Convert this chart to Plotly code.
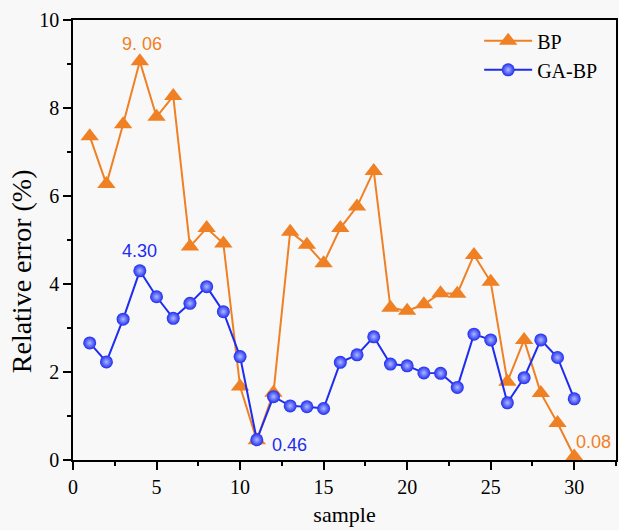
import plotly.graph_objects as go

samples = list(range(1, 31))
bp = [7.36, 6.27, 7.63, 9.06, 7.80, 8.27, 4.85, 5.27, 4.92, 1.67,
      0.45, 1.53, 5.19, 4.89, 4.47, 5.27, 5.76, 6.57, 3.46, 3.39,
      3.54, 3.79, 3.78, 4.66, 4.05, 1.78, 2.73, 1.52, 0.84, 0.08]
gabp = [2.66, 2.23, 3.20, 4.30, 3.71, 3.22, 3.56, 3.94, 3.37, 2.35,
        0.46, 1.44, 1.23, 1.21, 1.17, 2.22, 2.39, 2.80, 2.18, 2.14,
        1.98, 1.97, 1.65, 2.86, 2.73, 1.30, 1.87, 2.73, 2.33, 1.39]

labels = [
    # text, x, y, color
    ("9. 06", 4.1, 9.45, "#F08024"),
    ("4.30", 4.0, 4.74, "#1E2CF0"),
    ("0.46", 12.96, 0.35, "#1E2CF0"),
    ("0.08", 31.15, 0.42, "#F08024"),
]

ORANGE = "#F08024"
BLUE = "#1E2CF0"
SERIF = "Liberation Serif"

fig = go.Figure()
fig.add_trace(go.Scatter(
    x=samples, y=bp, name="BP", mode="lines+markers",
    line=dict(color=ORANGE, width=2),
    marker=dict(symbol="triangle-up", size=16, color=ORANGE),
))
fig.add_trace(go.Scatter(
    x=samples, y=gabp, name="GA-BP", mode="lines+markers",
    line=dict(color=BLUE, width=2),
    marker=dict(symbol="circle", size=13, color=BLUE,
                gradient=dict(type="radial", color="#AEB8FF")),
))

for text, x, y, c in labels:
    fig.add_annotation(x=x, y=y, text=text, showarrow=False,
                       xanchor="center", yanchor="middle",
                       font=dict(family="Liberation Sans", size=18, color=c))

# y-axis title (placed as rotated text, slightly below the plot centre as in the original)
fig.add_annotation(xref="paper", yref="paper", x=-0.095, y=0.43,
                   text="Relative error (%)", textangle=-90, showarrow=False,
                   xanchor="center", yanchor="middle",
                   font=dict(family=SERIF, size=28, color="black"))

axis_common = dict(
    showline=True, linecolor="black", linewidth=1.5, mirror=True,
    ticks="outside", ticklen=8, tickwidth=1.5, tickcolor="black",
    showgrid=False, zeroline=False,
    tickfont=dict(family=SERIF, size=20, color="black"),
)

fig.update_xaxes(
    range=[0, 32.5], tick0=0, dtick=5,
    minor=dict(dtick=2.5, ticks="outside", ticklen=4, tickwidth=1.5, tickcolor="black"),
    title=dict(text="sample", font=dict(family=SERIF, size=22, color="black"), standoff=10),
    **axis_common,
)
fig.update_yaxes(
    range=[0, 10], tick0=0, dtick=2,
    minor=dict(dtick=1, ticks="outside", ticklen=4, tickwidth=1.5, tickcolor="black"),
    **axis_common,
)

fig.update_layout(
    width=619, height=530,
    margin=dict(l=73, r=1, t=20, b=70),
    paper_bgcolor="#F8F8F8", plot_bgcolor="#F8F8F8",
    legend=dict(x=0.748, y=0.997, xanchor="left", yanchor="top",
                bgcolor="rgba(0,0,0,0)", itemwidth=48,
                font=dict(family=SERIF, size=20, color="black"),
                tracegroupgap=0),
    showlegend=True,
)

fig.write_html("out.html")
